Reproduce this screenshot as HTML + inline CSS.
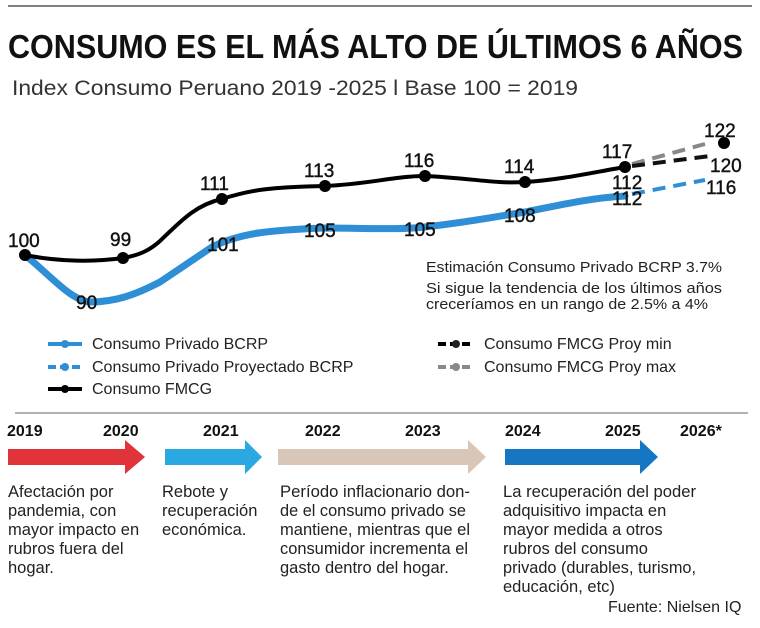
<!DOCTYPE html>
<html><head><meta charset="utf-8"><style>
body{margin:0;background:#fff;}
svg{display:block;font-family:"Liberation Sans",sans-serif;}
</style></head><body>
<svg width="760" height="628" viewBox="0 0 760 628" xmlns="http://www.w3.org/2000/svg">
<rect width="760" height="628" fill="#fff"/>
<line x1="8" y1="6" x2="752" y2="6" stroke="#555" stroke-width="1.5"/>
<text x="8" y="58" font-size="33" font-weight="bold" fill="#111" textLength="735" lengthAdjust="spacingAndGlyphs">CONSUMO ES EL MÁS ALTO DE ÚLTIMOS 6 AÑOS</text>
<text x="12" y="95" font-size="21" fill="#333" textLength="566" lengthAdjust="spacingAndGlyphs">Index Consumo Peruano 2019 -2025 l Base 100 = 2019</text>

<path d="M25,255 C50,275 70,300 90,302 C115,302 135,295 160,282 C185,265 200,255 212,247 C240,233 270,230 325,228 C360,228 400,230 425,227 C470,222 500,216 525,212 C560,205 590,198 625,196" fill="none" stroke="#2e8fd6" stroke-width="7" stroke-linecap="round"/>
<path d="M632,194 L705,180" fill="none" stroke="#2e8fd6" stroke-width="4" stroke-dasharray="13,8"/>
<path d="M25,255 C60,262 95,262 123,258 C140,255 150,250 160,241 C180,222 195,205 222,199 C250,190 270,187 325,186 C370,184 395,176 425,176 C470,178 495,184 525,182 C560,180 595,172 625,167" fill="none" stroke="#000" stroke-width="4"/>
<path d="M632,164 L705,144" stroke="#888" stroke-width="4" stroke-dasharray="13,8"/>
<path d="M632,166 L710,156" stroke="#111" stroke-width="4" stroke-dasharray="13,8"/>
<g fill="#000">
<circle cx="25" cy="255" r="6"/><circle cx="123" cy="258" r="6"/><circle cx="222" cy="199" r="6"/><circle cx="325" cy="186" r="6"/><circle cx="425" cy="176" r="6"/><circle cx="525" cy="182" r="6"/><circle cx="625" cy="167" r="6"/><circle cx="724" cy="143" r="6"/>
</g>
<g font-size="19" fill="#111" stroke="#111" stroke-width="0.4">
<text x="8" y="247">100</text><text x="110" y="246">99</text><text x="76" y="309">90</text>
<text x="200" y="190">111</text><text x="207" y="251">101</text>
<text x="304" y="177">113</text><text x="304" y="237">105</text>
<text x="404" y="167">116</text><text x="404" y="236">105</text>
<text x="504" y="173">114</text><text x="504" y="222">108</text>
<text x="602" y="158">117</text><text x="612" y="189">112</text><text x="612" y="205">112</text>
<text x="704" y="137">122</text><text x="710" y="172">120</text><text x="706" y="194">116</text>
</g>
<g font-size="15" fill="#222">
<text x="426" y="272" textLength="296" lengthAdjust="spacingAndGlyphs">Estimación Consumo Privado BCRP 3.7%</text>
<text x="426" y="293" textLength="296" lengthAdjust="spacingAndGlyphs">Si sigue la tendencia de los últimos años</text>
<text x="426" y="309" textLength="282" lengthAdjust="spacingAndGlyphs">creceríamos en un rango de 2.5% a 4%</text>
</g>
<g font-size="16" fill="#222">
<line x1="48" y1="344" x2="82" y2="344" stroke="#2e8fd6" stroke-width="4"/><circle cx="65" cy="344" r="4" fill="#2e8fd6"/>
<text x="92" y="349">Consumo Privado BCRP</text>
<line x1="48" y1="367" x2="82" y2="367" stroke="#2e8fd6" stroke-width="4" stroke-dasharray="8,4"/><circle cx="65" cy="367" r="4" fill="#2e8fd6"/>
<text x="92" y="372">Consumo Privado Proyectado BCRP</text>
<line x1="48" y1="389" x2="82" y2="389" stroke="#000" stroke-width="4"/><circle cx="65" cy="389" r="4" fill="#000"/>
<text x="92" y="394">Consumo FMCG</text>
<line x1="438" y1="344" x2="474" y2="344" stroke="#000" stroke-width="4" stroke-dasharray="8,4"/><circle cx="456" cy="344" r="4"/>
<text x="484" y="349">Consumo FMCG Proy min</text>
<line x1="438" y1="367" x2="474" y2="367" stroke="#888" stroke-width="4" stroke-dasharray="8,4"/><circle cx="456" cy="367" r="4" fill="#888"/>
<text x="484" y="372">Consumo FMCG Proy max</text>
</g>
<line x1="15" y1="413" x2="748" y2="413" stroke="#666" stroke-width="1"/>
<g font-size="16" font-weight="bold" fill="#111">
<text x="7" y="436">2019</text><text x="103" y="436">2020</text><text x="203" y="436">2021</text><text x="305" y="436">2022</text><text x="405" y="436">2023</text><text x="505" y="436">2024</text><text x="605" y="436">2025</text><text x="680" y="436">2026*</text>
</g>
<polygon points="8,449 125,449 125,440 145,457 125,474 125,465 8,465" fill="#e0343a"/>
<polygon points="165,449 245,449 245,440 262,457 245,474 245,465 165,465" fill="#2aa8e2"/>
<polygon points="278,449 468,449 468,440 486,457 468,474 468,465 278,465" fill="#d8c7b8"/>
<polygon points="505,449 640,449 640,440 658,457 640,474 640,465 505,465" fill="#1577c3"/>
<g font-size="16.5" fill="#222">
<text x="8" y="497">Afectación por</text><text x="8" y="516">pandemia, con</text><text x="8" y="535">mayor impacto en</text><text x="8" y="554">rubros fuera del</text><text x="8" y="573">hogar.</text>
<text x="162" y="497">Rebote y</text><text x="162" y="516">recuperación</text><text x="162" y="535">económica.</text>
<text x="280" y="497" textLength="190" lengthAdjust="spacingAndGlyphs">Período inflacionario don-</text><text x="280" y="516" textLength="186" lengthAdjust="spacingAndGlyphs">de el consumo privado se</text><text x="280" y="535" textLength="190" lengthAdjust="spacingAndGlyphs">mantiene, mientras que el</text><text x="280" y="554" textLength="188" lengthAdjust="spacingAndGlyphs">consumidor incrementa el</text><text x="280" y="573">gasto dentro del hogar.</text>
<text x="503" y="497" textLength="193" lengthAdjust="spacingAndGlyphs">La recuperación del poder</text><text x="503" y="516">adquisitivo impacta en</text><text x="503" y="535">mayor medida a otros</text><text x="503" y="554">rubros del consumo</text><text x="503" y="573" textLength="193" lengthAdjust="spacingAndGlyphs">privado (durables, turismo,</text><text x="503" y="592">educación, etc)</text>
</g>
<text x="608" y="612" font-size="16" fill="#222">Fuente: Nielsen IQ</text>
</svg>
</body></html>
